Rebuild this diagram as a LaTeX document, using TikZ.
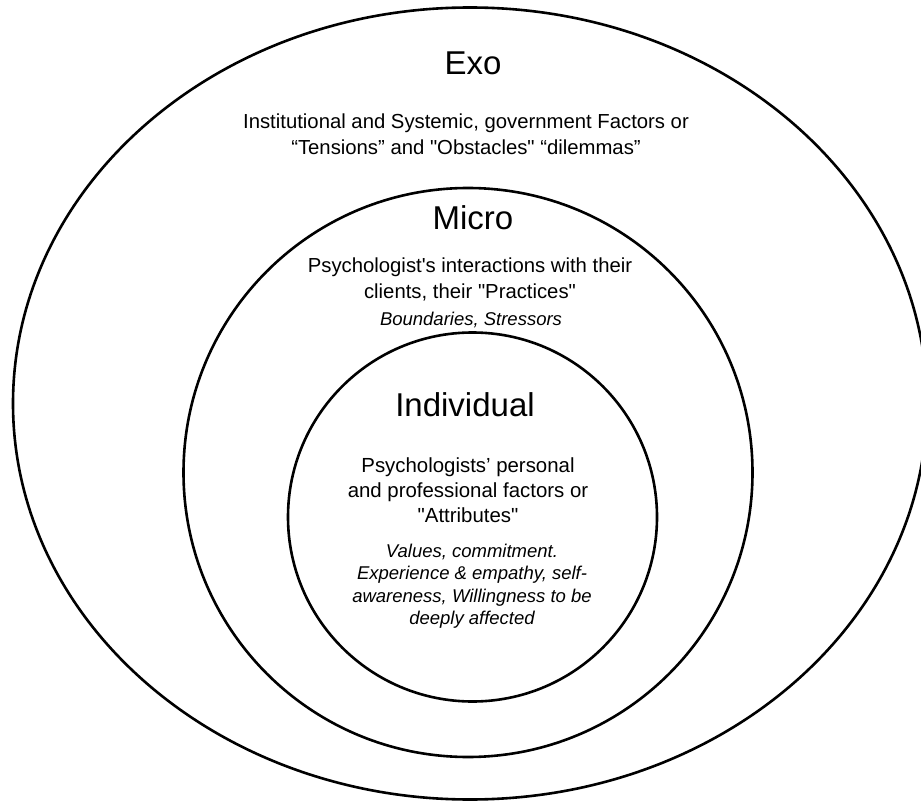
\documentclass[tikz,border=0pt]{standalone}
\usepackage{fontspec}
\setmainfont{Liberation Sans}[Ligatures=TeXOff]
\usetikzlibrary{positioning}
\tikzset{
  ring/.style={line width=2.6pt, black},
  title/.style={font=\fontsize{33}{38}\selectfont, inner sep=0pt},
  body/.style={font=\fontsize{20.3}{26}\selectfont, align=center, inner sep=0pt},
  keys/.style={font=\fontsize{18.5}{22.5}\selectfont\itshape, align=center, inner sep=0pt}
}
\begin{document}
\begin{tikzpicture}[x=1pt, y=-1pt]
  \useasboundingbox (0,0) rectangle (921,802);
  % the three layers
  \draw[ring] (470,403.5) ellipse [x radius=457pt, y radius=396pt];
  \draw[ring] (468,472.5) circle [radius=284.5pt];
  \draw[ring] (472.5,517) circle [radius=184.5pt];
  % exo
  \node (exo) [title] at (473,63) {Exo};
  \node (exotext) [body] at (466,134) {Institutional and Systemic, government Factors or\\
    “Tensions” and "Obstacles" “dilemmas”};
  % micro
  \node (micro) [title] at (473,218) {Micro};
  \node (microtext) [body] at (470,279) {Psychologist's interactions with their\\
    clients, their "Practices"};
  \node (microkeys) [keys] at (471,320) {Boundaries, Stressors};
  % individual
  \node (indiv) [title] at (465,405) {Individual};
  \node (indivtext) [body, font=\fontsize{20.4}{25}\selectfont] at (468,490) {Psychologists’ personal\\
    and professional factors or\\ "Attributes"};
  \node (indivkeys) [keys] at (472,586) {Values, commitment.\\
    Experience \& empathy, self-\\ awareness, Willingness to be\\ deeply affected};
\end{tikzpicture}
\end{document}
